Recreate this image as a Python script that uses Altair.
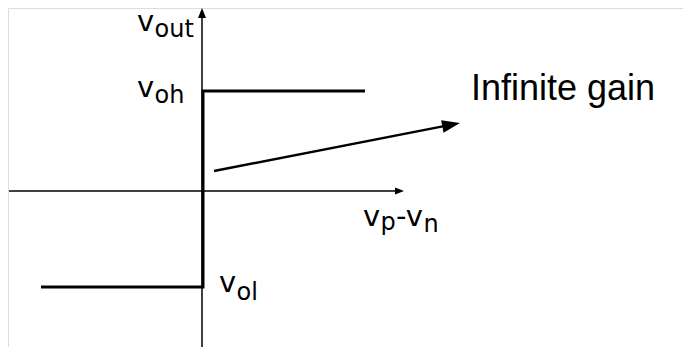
import math
import altair as alt
import pandas as pd

# ---- diagram values (origin at the crossing of the two axes) ----
V_OH = 100          # high output level
V_OL = -96          # low output level
HIGH_END = 163      # right end of the high branch
LOW_START = -161    # left end of the low branch
X_AXIS = [-193, 201]   # horizontal axis extent (arrow tip at right)
Y_AXIS = [-170, 183]   # vertical axis extent (arrow tip at top)
GAIN_FROM = [12, 20]   # arrow pointing at the vertical jump label
GAIN_TO = [258, 68]

# labels: (text, x, y, font size)
MAIN_LABELS = [
    ("v", -65, 160, 29), ("out", -47.5, 154, 24),
    ("v", -65, 94, 29), ("oh", -47.5, 88, 24),
    ("v", 17, -101, 29), ("ol", 34.5, -109, 24),
    ("v", 161, -35, 29), ("p", 178.5, -39, 24),
    ("-v", 194, -35, 29), ("n", 221.5, -41, 24),
]
GAIN_LABEL = ("Infinite gain", 269, 91, 36)

XD = [-194, 481]
YD = [-156, 183]
xs = alt.Scale(domain=XD, nice=False, zero=False)
ys = alt.Scale(domain=YD, nice=False, zero=False)

# axis lines
axes_df = pd.DataFrame({
    "x": [X_AXIS[0], 0], "x2": [X_AXIS[1] - 7, 0],
    "y": [0, Y_AXIS[0]], "y2": [0, Y_AXIS[1] - 8],
})
axes_lines = alt.Chart(axes_df).mark_rule(color="black", strokeWidth=1.5).encode(
    x=alt.X("x:Q", scale=xs, axis=None), x2="x2:Q",
    y=alt.Y("y:Q", scale=ys, axis=None), y2="y2:Q",
)

# transfer curve
curve_df = pd.DataFrame({
    "x": [HIGH_END, 1, 1, LOW_START],
    "y": [V_OH, V_OH, V_OL, V_OL],
    "o": [0, 1, 2, 3],
})
curve = alt.Chart(curve_df).mark_line(color="black", strokeWidth=3, strokeJoin="miter").encode(
    x=alt.X("x:Q", scale=xs, axis=None),
    y=alt.Y("y:Q", scale=ys, axis=None),
    order="o:Q",
)

# gain arrow shaft
dx, dy = GAIN_TO[0] - GAIN_FROM[0], GAIN_TO[1] - GAIN_FROM[1]
dl = math.hypot(dx, dy)
ux, uy = dx / dl, dy / dl
GAIN_HEAD = 18
gain_df = pd.DataFrame({
    "x": [GAIN_FROM[0]], "y": [GAIN_FROM[1]],
    "x2": [GAIN_TO[0] - (GAIN_HEAD - 3) * ux], "y2": [GAIN_TO[1] - (GAIN_HEAD - 3) * uy],
})
gain_line = alt.Chart(gain_df).mark_rule(color="black", strokeWidth=2.5).encode(
    x=alt.X("x:Q", scale=xs, axis=None), x2="x2:Q",
    y=alt.Y("y:Q", scale=ys, axis=None), y2="y2:Q",
)

# arrow heads (right-pointing custom triangle, rotated)
def head(tip, ang_deg, length, ratio):
    a = math.radians(ang_deg)
    ddx, ddy = math.cos(a), -math.sin(a)
    cx = tip[0] - ddx * length / 2
    cy = tip[1] - ddy * length / 2
    return {"x": cx, "y": cy, "angle": ang_deg % 360, "size": length ** 2,
            "shape": f"M 1 0 L -1 -{ratio} L -1 {ratio} Z"}

gain_ang = -math.degrees(math.atan2(dy, dx))
heads_df = pd.DataFrame([
    head([X_AXIS[1] + 1, 0], 0, 9, 0.8),
    head([0, Y_AXIS[1]], 270, 10, 0.8),
    head(GAIN_TO, gain_ang, GAIN_HEAD, 0.7),
])
heads = alt.Chart(heads_df).mark_point(filled=True, color="black", opacity=1, strokeWidth=0).encode(
    x=alt.X("x:Q", scale=xs, axis=None),
    y=alt.Y("y:Q", scale=ys, axis=None),
    angle=alt.Angle("angle:Q", scale=None),
    size=alt.Size("size:Q", scale=None),
    shape=alt.Shape("shape:N", scale=None),
)

lab_df = pd.DataFrame(MAIN_LABELS, columns=["t", "x", "y", "fs"])
labels = alt.Chart(lab_df).mark_text(
    align="left", baseline="alphabetic", font="DejaVu Sans", color="black"
).encode(
    x=alt.X("x:Q", scale=xs, axis=None),
    y=alt.Y("y:Q", scale=ys, axis=None),
    text="t:N",
    size=alt.Size("fs:Q", scale=None),
)

gain_df2 = pd.DataFrame([GAIN_LABEL], columns=["t", "x", "y", "fs"])
gain_text = alt.Chart(gain_df2).mark_text(
    align="left", baseline="alphabetic", font="Liberation Sans", color="black"
).encode(
    x=alt.X("x:Q", scale=xs, axis=None),
    y=alt.Y("y:Q", scale=ys, axis=None),
    text="t:N",
    size=alt.Size("fs:Q", scale=None),
)

chart = alt.layer(axes_lines, curve, gain_line, heads, labels, gain_text).properties(
    width=675, height=339, padding=0,
    autosize=alt.AutoSizeParams(type="none"),
).configure_view(stroke=None).configure(background="white")

chart.save("out.html", embed_options={"renderer": "svg", "actions": False})
